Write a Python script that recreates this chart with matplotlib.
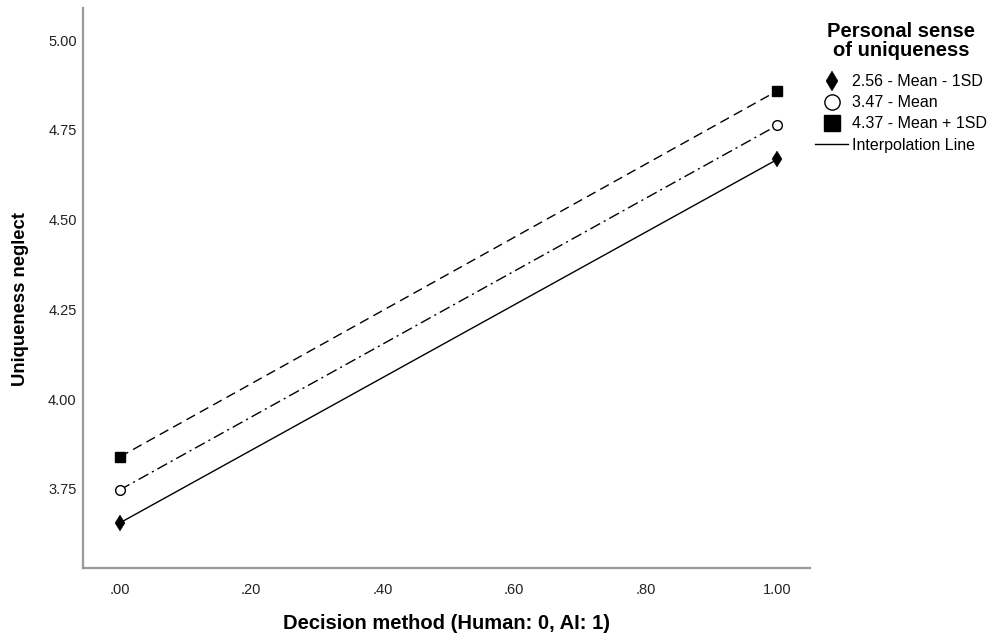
import matplotlib
matplotlib.use("Agg")
import matplotlib.pyplot as plt
from matplotlib.lines import Line2D

plt.rcParams['font.family'] = ['Liberation Sans', 'DejaVu Sans']

x_vals = [0.0, 1.0]
low_vals = [3.655, 4.668]    # 2.56 - Mean - 1SD
mean_vals = [3.747, 4.763]   # 3.47 - Mean
high_vals = [3.839, 4.859]   # 4.37 - Mean + 1SD
series_labels = ["2.56 - Mean - 1SD", "3.47 - Mean", "4.37 - Mean + 1SD"]
y_ticks = [3.75, 4.00, 4.25, 4.50, 4.75, 5.00]
x_ticks = [0.0, 0.2, 0.4, 0.6, 0.8, 1.0]
x_tick_labels = [".00", ".20", ".40", ".60", ".80", "1.00"]

fig = plt.figure(figsize=(9.99, 6.38), dpi=100)
ax = fig.add_axes([0.083, 0.110, 0.728, 0.877])

ax.plot(x_vals, low_vals, color='black', lw=1.0, ls='-', marker='d',
        markersize=8, markerfacecolor='black', markeredgecolor='black',
        markeredgewidth=0.3)
ax.plot(x_vals, mean_vals, color='black', lw=1.0, ls=(0, (8, 3, 1.5, 3)), marker='o',
        markersize=7, markerfacecolor='white', markeredgecolor='black',
        markeredgewidth=1.0)
ax.plot(x_vals, high_vals, color='black', lw=1.0, ls=(0, (7, 4)), marker='s',
        markersize=6.5, markerfacecolor='black', markeredgecolor='black')

ax.set_xlim(-0.056, 1.05)
ax.set_ylim(3.53, 5.089)
ax.set_yticks(y_ticks)
ax.set_yticklabels([f"{v:.2f}" for v in y_ticks])
ax.set_xticks(x_ticks)
ax.set_xticklabels(x_tick_labels)
ax.tick_params(length=0, labelsize=10.5, colors='#222222')
ax.tick_params(axis='x', pad=11)
ax.tick_params(axis='y', pad=4.5)

for s in ['top', 'right']:
    ax.spines[s].set_visible(False)
for s in ['left', 'bottom']:
    ax.spines[s].set_color('#9a9a9a')
    ax.spines[s].set_linewidth(1.6)

ax.set_xlabel("Decision method (Human: 0, AI: 1)", fontsize=14.5, fontweight='bold', labelpad=12)
ax.set_ylabel("Uniqueness neglect", fontsize=13.3, fontweight='bold')
ax.yaxis.set_label_coords(-0.074, 0.48)

handles = [
    Line2D([], [], ls='none', marker='d', markersize=10, markeredgewidth=0.3, color='black'),
    Line2D([], [], ls='none', marker='o', markersize=11, markerfacecolor='white',
           markeredgecolor='black', markeredgewidth=1.0),
    Line2D([], [], ls='none', marker='s', markersize=11, color='black'),
    Line2D([], [], ls='-', lw=1.0, color='black'),
]
labels = series_labels + ["Interpolation Line"]
leg = fig.legend(handles, labels, loc='upper center', bbox_to_anchor=(0.902, 0.966),
                 frameon=False, fontsize=11.5, title="Personal sense\nof uniqueness",
                 title_fontproperties={'weight': 'bold', 'size': 14.5},
                 handlelength=2.06, handletextpad=0.25, labelspacing=0.38,
                 borderaxespad=0, borderpad=0)
leg.get_title().set_multialignment('center')
leg.get_title().set_linespacing(1.05)
leg._legend_box.align = 'center'
leg._legend_box.sep = 10

fig.savefig("out.png", dpi=100)
